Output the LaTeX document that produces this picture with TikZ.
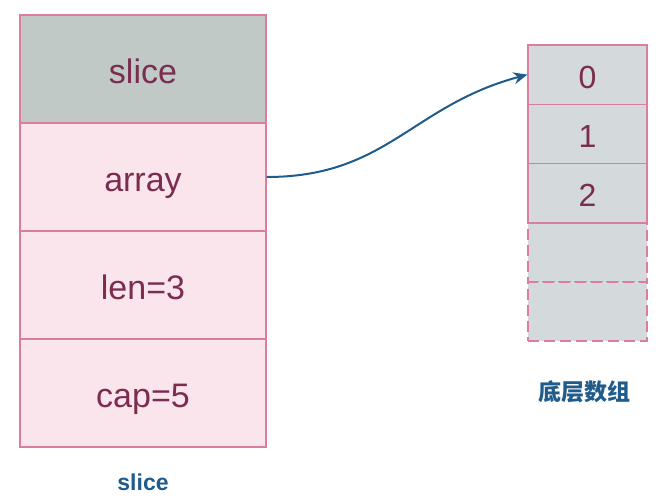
\documentclass[tikz,border=0pt]{standalone}
\usepackage{fontspec}
\setmainfont{Liberation Sans}
\newfontfamily\cjk{Noto Sans CJK SC}
\usetikzlibrary{arrows.meta}

\definecolor{cellline}{HTML}{DB7D9D}
\definecolor{cellpink}{HTML}{FAE5EC}
\definecolor{cellgray}{HTML}{C1C9C6}
\definecolor{arrgray}{HTML}{D4D9DC}
\definecolor{celltext}{HTML}{7A2D50}
\definecolor{ptrblue}{HTML}{1F5B8B}

\tikzset{
  slicecell/.style = {draw = cellline, line width = 1.2pt, fill = cellpink,
    minimum width = 246pt, minimum height = 108pt, inner sep = 0pt,
    text height = 28pt, text depth = 0pt,
    text = celltext, font = \fontsize{34}{40}\selectfont},
  elemcell/.style = {draw = cellline, line width = 1.2pt, fill = arrgray,
    minimum width = 119pt, minimum height = 59.2pt, inner sep = 0pt,
    text height = 27pt, text depth = 0pt,
    text = celltext, font = \fontsize{32}{38}\selectfont},
  spare/.style = {dash pattern = on 11pt off 5pt},
  caption/.style = {text = ptrblue, font = \bfseries\fontsize{23}{28}\selectfont},
  ptr/.style = {draw = ptrblue, line width = 2pt, -{Stealth[length = 14pt, width = 12pt]}}
}

\begin{document}
\begin{tikzpicture}[x = 1pt, y = 1pt]
            \useasboundingbox (0,0) rectangle (666,-499);

            % slice header
            \node[slicecell, fill = cellgray] (hdr) at (143,-69) {slice};
            \node[slicecell] (arr) at (143,-177) {array};
            \node[slicecell] (len) at (143,-285) {len=3};
            \node[slicecell] (cap) at (143,-393) {cap=5};
            \draw[cellline, line width = 1.2pt, dashed] (hdr.south west) -- (hdr.south east);

            % underlying array
            \node[elemcell] (e0) at (587.5,-74.6) {0};
            \node[elemcell] (e1) at (587.5,-133.8) {1};
            \node[elemcell] (e2) at (587.5,-193.0) {2};
            \node[elemcell, spare] (e3) at (587.5,-252.2) {};
            \node[elemcell, spare] (e4) at (587.5,-311.4) {};
            \draw[cellline, line width = 1.2pt] (e2.south west) -- (e2.south east);
            \draw[cellline, line width = 1.2pt, spare] (e3.south west) -- (e3.south east);

            \node[caption] (slicename) at (143,-482) {slice};
            \node[caption] (arrname) at (584,-392) {\cjk\bfseries 底层数组};

            \draw[ptr] (arr.east) to[out = 0, in = 195, looseness = 1.1] (e0.west);
        \end{tikzpicture}
\end{document}
